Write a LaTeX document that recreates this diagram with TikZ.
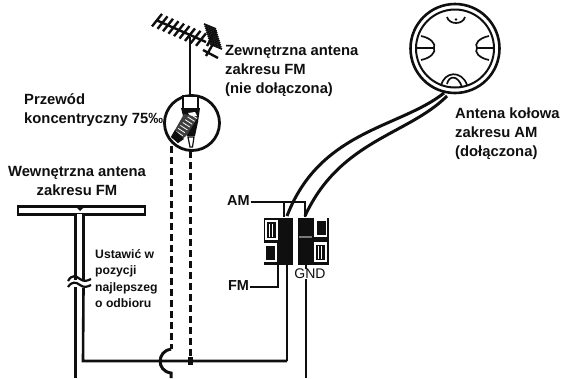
\documentclass[tikz,border=0pt]{standalone}
\usepackage{xcolor}
\usepackage{fontspec}
\setmainfont{Liberation Sans}
\usetikzlibrary{calc}
\definecolor{inkblack}{RGB}{15,15,15}
\definecolor{slotgray}{RGB}{120,120,120}
\tikzset{
    label/.style={font=\bfseries\fontsize{14.8}{19}\selectfont, align=left, inner sep=0pt, text=inkblack},
    smalllabel/.style={font=\bfseries\fontsize{12.2}{16.5}\selectfont, align=left, inner sep=0pt, text=inkblack},
    wire/.style={draw=inkblack, line width=2.2pt},
    thinwire/.style={draw=inkblack, line width=1.4pt},
    coax/.style={draw=inkblack, line width=3pt, dash pattern=on 7pt off 4pt},
    cable/.style={draw=inkblack, line width=3pt},
    element/.style={draw=inkblack, line width=2.4pt},
    termblock/.style={fill=inkblack, draw=none},
    termwindow/.style={draw=none, fill=white},
}
\begin{document}
\begin{tikzpicture}[x=1pt,y=-1pt]
    \useasboundingbox (0,0) rectangle (562,378);

    % yagi antenna
    \coordinate (boomstart) at (156,20);
    \coordinate (boomend) at (206,42);
    \draw[element] (boomstart) -- (boomend);
    \foreach \t in {0.02,0.13,...,1.0} {
        \draw[element] ($(boomstart)!\t!(boomend)+(-5,6)$) -- ($(boomstart)!\t!(boomend)+(5,-6.5)$);
    }
    \foreach \t in {0,0.1,...,1.01} {
        \draw[draw=inkblack, line width=1.8pt] ($(209,26)!\t!(215,46)+(-5,-2)$) -- ($(209,26)!\t!(215,46)+(7,3)$);
    }
    \draw[element] (203,50) -- (218,58);
    \draw[element] (207,46) -- (216,30);
    \draw[element] (206,56) -- (213,44);

    % mast down to the detail circle
    \coordinate (masttop) at (190,37);
    \node[circle, draw=inkblack, line width=2.8pt, minimum size=55pt, inner sep=0pt] (detail) at (192,123) {};
    \draw[wire, line width=2.8pt] (masttop) -- (190,96);

    % coaxial plug inside the circle
    \draw[draw=inkblack, line width=1.8pt, fill=white] (183,96) rectangle (198,110);
    \fill[inkblack] (181,108) -- (200,108) -- (198,122) -- (195,136) -- (187,136) -- (184,120) -- cycle;
    \fill[white] (188,113) -- (195,112) -- (197,116) -- (191,117) -- cycle;
    \fill[inkblack!80] (171,137) -- (184,114) -- (198,117) -- (187,135) -- (178,143) -- cycle;
    \foreach \t in {0.1,0.25,...,1} {
        \draw[draw=white, line width=.8pt] ($(174,133)!\t!(190,114)$) -- +(7,4.5);
    }
    \fill[inkblack] (171,137) -- (175,130) -- (184,139) -- (178,143) -- cycle;
    \draw[draw=inkblack, line width=1.2pt, fill=white] (188,137) -- (194,137) -- (192.5,147) -- (190,147) -- cycle;

    % coaxial cable
    \coordinate (coaxa) at (171,146);
    \coordinate (coaxb) at (190,151);
    \coordinate (hopin) at (171,349);
    \coordinate (hopout) at (171,373);
    \coordinate (busleft) at (83,361);
    \coordinate (busjoin) at (190,361);
    \coordinate (busright) at (287,361);
    \draw[coax] (coaxa) -- (hopin);
    \draw[coax] (coaxb) -- (busjoin);
    \draw[wire, line width=3pt] (hopin) .. controls (157,351) and (156,371) .. (hopout) -- (171,378);
    \fill[inkblack] (187.5,357) rectangle (192.5,365);

    % indoor antenna
    \node[draw=inkblack, line width=2.8pt, fill=white, minimum width=127pt, minimum height=8pt, inner sep=0pt] (dipole) at (81.5,210.5) {};
    \fill[white] (77,214) rectangle (82,217);
    \fill[inkblack] (75,205.5) -- (86,205.5) -- (80,211) -- cycle;
    \coordinate (legleft) at (75.5,216);
    \coordinate (legright) at (83.5,216);
    \draw[wire, line width=2.6pt] (legleft) -- (75.5,280);
    \draw[wire, line width=2.6pt] (legright) -- (83.5,281);
    \draw[wire] (68,281) .. controls (72,274) and (76,276) .. (80,279) .. controls (84,282) and (87,281) .. (91,279);
    \draw[wire] (68,287) .. controls (72,281) and (76,282) .. (80,285) .. controls (84,288) and (87,287) .. (91,285);
    \draw[wire, line width=2.6pt] (75.5,287) -- (75.5,378);
    \draw[wire, line width=2.6pt] (83.5,288) -- (busleft) -- (busright);

    % terminal block
    \node[termblock, minimum width=29pt, minimum height=47pt, inner sep=0pt] (leftblock) at (278,241) {};
    \node[termblock, minimum width=31pt, minimum height=47pt, inner sep=0pt] (rightblock) at (313.5,241) {};
    \node[termwindow, minimum width=13pt, minimum height=20pt, inner sep=0pt] (amwinleft) at (271,230) {};
    \node[termwindow, minimum width=14pt, minimum height=19pt, inner sep=0pt] (fmwinleft) at (270,252.5) {};
    \node[termwindow, minimum width=13pt, minimum height=19pt, inner sep=0pt] (amwinright) at (320.5,227.5) {};
    \node[termwindow, minimum width=13pt, minimum height=20pt, inner sep=0pt] (fmwinright) at (320.5,252) {};
    \fill[inkblack] (266.5,222) rectangle (275.5,238);
    \fill[inkblack] (265.5,245.5) rectangle (274.5,259.5);
    \fill[inkblack] (316.5,220.5) rectangle (325.5,234.5);
    \fill[inkblack] (316,244.5) rectangle (325,260);
    \foreach \x in {269.5,272.5} {
        \draw[draw=white, line width=1pt] (\x,223.5) -- (\x,236.5);
        \draw[draw=white, line width=1pt] (\x+49,246) -- (\x+49,258.5);
    }
    \draw[draw=slotgray, line width=1.2pt] (299,237) -- (312,237);

    % labels on the terminals
    \node[label, font=\bfseries\fontsize{14.5}{15}\selectfont] (amlabel) at (238.5,201) {AM};
    \node[label, font=\bfseries\fontsize{14.5}{15}\selectfont] (fmlabel) at (238.5,286) {FM};
    \coordinate (amjoin) at (305,202);
    \draw[thinwire] (amlabel.east |- amjoin) ++(1,0) -- (amjoin) -- (305,217);
    \draw[thinwire] (284,202) -- (284,217);
    \coordinate (fmjoin) at (278,287);
    \draw[thinwire] (fmlabel.east |- fmjoin) ++(1,0) -- (fmjoin) -- (278,264);
    \draw[wire] (287,264) -- (busright);
    \draw[wire] (306,264) -- (306,378);
    \node[inner sep=.5pt, fill=white, font=\fontsize{14}{15}\selectfont, text=inkblack] (gndlabel) at (310,274) {GND};

    % loop antenna
    \node[circle, draw=inkblack, line width=2.6pt, minimum size=89pt, inner sep=0pt] (loopouter) at (455,48.5) {};
    \node[circle, draw=inkblack, line width=2pt, minimum size=78pt, inner sep=0pt] (loopinner) at (455,48.5) {};
    \draw[thinwire, line width=1.7pt] (447,17) .. controls (449,25) and (463,25) .. (465,17);
    \fill[inkblack] (456,19.5) circle (1.4pt);
    \draw[thinwire, line width=1.7pt] (421,36) .. controls (431,38) and (436,44) .. (434,48) .. controls (436,52) and (431,58) .. (421,60);
    \draw[thinwire, line width=1.7pt] (489,36) .. controls (479,38) and (474,44) .. (477,48) .. controls (474,52) and (479,58) .. (489,60);
    \draw[thinwire, line width=1.7pt] (417,48) -- (434,48);
    \draw[thinwire, line width=1.7pt] (477,48) -- (493,48);
    \draw[thinwire, line width=1.7pt] (441,86) .. controls (444,71) and (462,70) .. (467,85);
    \draw[thinwire, line width=1.7pt] (447,84) .. controls (449,75) and (458,75) .. (462,87);

    % loop antenna leads
    \coordinate (leada) at (444,93);
    \coordinate (leadb) at (447,96);
    \coordinate (termam) at (287,216);
    \coordinate (termgnd) at (305,216);
    \draw[cable] (leada) .. controls (400,128) and (320,130) .. (termam);
    \draw[cable] (leadb) .. controls (408,135) and (340,140) .. (termgnd);

    % texts
    \node[label, anchor=north west] (fmoutdoor) at (225,45) {Zewnętrzna antena\\zakresu FM\\(nie dołączona)};
    \node[label, anchor=north west] (coaxtext) at (24,93) {Przewód\\koncentryczny 75‰};
    \node[label, anchor=north, align=center] (fmindoor) at (77,166) {Wewnętrzna antena\\zakresu FM};
    \node[smalllabel, anchor=north west] (adjusttext) at (95,249) {Ustawić w\\pozycji\\najlepszeg\\o odbioru};
    \node[label, anchor=north west] (amtext) at (455,108) {Antena kołowa\\zakresu AM\\(dołączona)};
\end{tikzpicture}
\end{document}
